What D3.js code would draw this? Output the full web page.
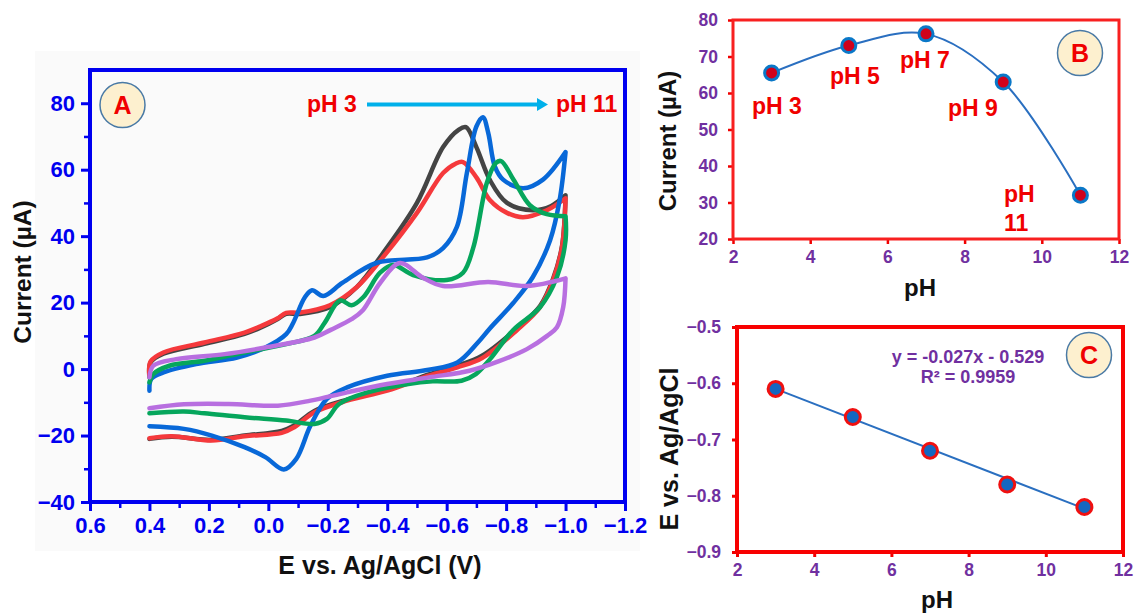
<!DOCTYPE html>
<html lang="en">
<head>
  <meta charset="UTF-8">
  <title>CV vs pH</title>
  <script src="https://d3js.org/d3.v7.min.js"></script>
  <style>
    body { margin: 0; background: #fff; }
    svg { display: block; }
    text { font-family: "Liberation Sans", Arial, sans-serif; font-weight: bold; }
    .axis path { display: none; }
  </style>
</head>
<body>
  <div id="chart"></div>
  <script>
    // panel A: voltammograms, [E, I] in scan order (turning point listed twice to keep it sharp)
    const cvBlack = [[0.4,-2.5],[0.396,2],[0.353,4.6],[0.215,7.6],[0.08,10.6],[0.023,12.6],[-0.03,15],[-0.06,16.6],[-0.107,16.6],[-0.207,18.6],[-0.298,24.7],[-0.386,34.9],[-0.5,50],[-0.588,66.8],[-0.64,72],[-0.665,72.8],[-0.70,66.8],[-0.746,56.8],[-0.803,50],[-0.89,47.8],[-0.95,49],[-1.0,52.3],[-1.0,52.3],[-0.988,37],[-0.958,27.2],[-0.914,19],[-0.836,12.2],[-0.719,4],[-0.636,1],[-0.54,-1.6],[-0.4,-6.2],[-0.265,-9.2],[-0.155,-12.6],[-0.087,-17],[-0.045,-18.6],[0.08,-20],[0.19,-21.3],[0.325,-20.4],[0.4,-21]];
    const cvRed = [[0.4,-2],[0.396,2.3],[0.353,5],[0.215,8],[0.08,11],[0.023,13],[-0.03,15.2],[-0.06,16.9],[-0.107,17],[-0.207,19.2],[-0.298,24.7],[-0.386,33.7],[-0.5,47],[-0.588,59],[-0.63,61.8],[-0.655,62.3],[-0.70,57.7],[-0.746,50.8],[-0.803,47],[-0.857,45.7],[-0.937,47.8],[-1.0,51.4],[-1.0,51.4],[-0.988,36.7],[-0.958,26.8],[-0.914,18.6],[-0.836,11.7],[-0.719,3.3],[-0.636,0.5],[-0.54,-2],[-0.4,-6.5],[-0.265,-9.5],[-0.155,-13],[-0.087,-17.5],[-0.045,-19.2],[0.08,-20.2],[0.19,-21.5],[0.325,-20.2],[0.4,-20.8]];
    const cvBlue = [[0.4,-6.5],[0.394,-3],[0.353,-1],[0.243,1.5],[0.105,3.5],[0.01,6.5],[-0.06,10.5],[-0.083,13.8],[-0.123,21.6],[-0.147,23.7],[-0.185,22],[-0.25,26],[-0.365,32],[-0.534,33.6],[-0.588,36.4],[-0.634,42.7],[-0.668,59],[-0.70,73],[-0.722,75.8],[-0.74,71],[-0.762,61],[-0.79,57],[-0.857,54.4],[-0.924,57],[-1.0,65.3],[-1.0,65.3],[-0.98,50.8],[-0.948,38.8],[-0.89,27.7],[-0.823,19.8],[-0.746,12.3],[-0.705,8],[-0.636,2],[-0.54,-0.2],[-0.4,-2],[-0.265,-5.5],[-0.197,-9],[-0.142,-17],[-0.094,-27],[-0.052,-30.2],[0.01,-26.5],[0.08,-23.5],[0.19,-20],[0.284,-18],[0.4,-17.2]];
    const cvGreen = [[0.4,-4],[0.387,-1.5],[0.333,1],[0.215,2.5],[0.08,5],[-0.06,7.5],[-0.155,10],[-0.19,14],[-0.241,20.7],[-0.28,19.2],[-0.32,21.7],[-0.376,29],[-0.42,31.3],[-0.487,28.3],[-0.6,26.8],[-0.655,29],[-0.69,36.7],[-0.735,56],[-0.765,62],[-0.783,62.6],[-0.825,57],[-0.88,49.3],[-0.937,46.6],[-1.0,46],[-1.0,46],[-1.0,38.8],[-0.971,27.7],[-0.914,18.6],[-0.823,11.7],[-0.746,3],[-0.698,-1.5],[-0.65,-3.5],[-0.553,-3.7],[-0.471,-4.5],[-0.334,-7],[-0.238,-10.5],[-0.197,-15],[-0.155,-16.5],[-0.06,-15.5],[0.08,-14.5],[0.215,-13.3],[0.284,-12.8],[0.4,-13.3]];
    const cvPurple = [[0.4,-2.5],[0.387,1],[0.31,3],[0.147,4.5],[0.01,6.5],[-0.155,9.5],[-0.21,11.8],[-0.28,15],[-0.318,17.7],[-0.376,25.9],[-0.443,31.9],[-0.52,27.5],[-0.588,25],[-0.74,26.2],[-0.87,25],[-1.0,27.3],[-1.0,27.3],[-0.992,18.6],[-0.971,12.6],[-0.938,10],[-0.87,6],[-0.774,2.3],[-0.677,-0.5],[-0.54,-2.5],[-0.4,-4.5],[-0.265,-7],[-0.142,-9.5],[-0.032,-11],[0.133,-10.5],[0.284,-10.6],[0.4,-11.8]];
    const cvColors = ["#444444", "#f5393c", "#0868d8", "#06a65c", "#b86fe0"];

    // panels B and C
    const phValues = [3, 5, 7, 9, 11];
    const currentValues = [65.5, 73, 76.2, 63, 32];
    const potentialValues = [-0.61, -0.66, -0.72, -0.78, -0.82];
    const trendPh = [3, 11];
    const trendE = [-0.61, -0.823];

    const ticksAE = [0.6, 0.4, 0.2, 0, -0.2, -0.4, -0.6, -0.8, -1.0, -1.2];
    const minorAE = [0.5, 0.3, 0.1, -0.1, -0.3, -0.5, -0.7, -0.9, -1.1];
    const ticksAI = [-40, -20, 0, 20, 40, 60, 80];
    const minorAI = [-30, -10, 10, 30, 50, 70];
    const ticksPh = [2, 4, 6, 8, 10, 12];
    const ticksBI = [20, 30, 40, 50, 60, 70, 80];
    const ticksCE = [-0.9, -0.8, -0.7, -0.6, -0.5];

    const svg = d3.select("#chart").append("svg").attr("width", 1134).attr("height", 615);

    function txt(x, y, s, size, color, anchor) {
      return svg.append("text").attr("x", x).attr("y", y).attr("font-size", size)
        .attr("fill", color).attr("text-anchor", anchor || "middle").text(s);
    }
    function vtxt(x, y, s, size) {
      return svg.append("text").attr("transform", `translate(${x},${y}) rotate(-90)`)
        .attr("font-size", size).attr("fill", "#111").attr("text-anchor", "middle").text(s);
    }
    function badge(x, y, s) {
      svg.append("circle").attr("cx", x).attr("cy", y).attr("r", 22.5)
        .attr("fill", "#fdf0cf").attr("stroke", "#4a7aa5").attr("stroke-width", 1.5);
      txt(x, y + 9, s, 25, "#f00000");
    }
    function drawAxis(axis, tx, ty, color, width, size, fmt, font, pad) {
      const g = svg.append("g").attr("class", "axis").attr("transform", `translate(${tx},${ty})`)
        .call(axis.tickSize(size).tickPadding(pad).tickFormat(fmt));
      g.selectAll("line").attr("stroke", color).attr("stroke-width", width);
      g.selectAll("text").attr("fill", color).attr("font-size", font);
      return g;
    }
    function frame(x, y, color, width) {
      const [x0, x1] = x.range(), [y0, y1] = y.range();
      svg.append("rect").attr("x", x0).attr("y", y1).attr("width", x1 - x0).attr("height", y0 - y1)
        .attr("fill", "none").attr("stroke", color).attr("stroke-width", width);
    }

    // ---- panel A ----
    svg.append("rect").attr("x", 35).attr("y", 51).attr("width", 605).attr("height", 500).attr("fill", "#fafafa");
    const xA = d3.scaleLinear().domain([0.6, -1.2]).range([90, 625]);
    const yA = d3.scaleLinear().domain([-40, 90]).range([502, 70]);
    const cvLine = d3.line().x(d => xA(d[0])).y(d => yA(d[1])).curve(d3.curveCatmullRom.alpha(0.5));
    [cvBlack, cvRed, cvBlue, cvGreen, cvPurple].forEach((c, i) => {
      svg.append("path").datum(c).attr("d", cvLine).attr("fill", "none")
        .attr("stroke", cvColors[i]).attr("stroke-width", 4.5)
        .attr("stroke-linejoin", "round").attr("stroke-linecap", "round");
    });
    drawAxis(d3.axisBottom(xA).tickValues(minorAE), 0, 502, "#0000f0", 2.5, 6, () => "", 1, 0);
    drawAxis(d3.axisLeft(yA).tickValues(minorAI), 90, 0, "#0000f0", 2.5, 6, () => "", 1, 0);
    drawAxis(d3.axisBottom(xA).tickValues(ticksAE), 0, 502, "#0000f0", 3, 9, d3.format(".1f"), 22, 6);
    drawAxis(d3.axisLeft(yA).tickValues(ticksAI), 90, 0, "#0000f0", 3, 9, d3.format("d"), 22, 6);
    frame(xA, yA, "#0000f0", 4);
    vtxt(31, 272, "Current (µA)", 24.5);
    txt(380, 574, "E vs. Ag/AgCl (V)", 25, "#111");
    badge(122.5, 105, "A");
    txt(307, 112, "pH 3", 23, "#f00000", "start");
    txt(556, 112, "pH 11", 23, "#f00000", "start");
    svg.append("line").attr("x1", 367).attr("x2", 540).attr("y1", 104.5).attr("y2", 104.5)
      .attr("stroke", "#00b0ea").attr("stroke-width", 4);
    svg.append("path").attr("d", "M537,98L548,104.5L537,111Z").attr("fill", "#00b0ea");

    // ---- panel B ----
    const xB = d3.scaleLinear().domain([2, 12]).range([733, 1119]);
    const yB = d3.scaleLinear().domain([20, 80]).range([239, 20]);
    const phPoints = phValues.map((p, i) => [p, currentValues[i]]);
    svg.append("path").datum(phPoints)
      .attr("d", d3.line().x(d => xB(d[0])).y(d => yB(d[1])).curve(d3.curveCatmullRom.alpha(0.5)))
      .attr("fill", "none").attr("stroke", "#2a6fc0").attr("stroke-width", 2);
    svg.selectAll(".ptB").data(phPoints).enter().append("circle").attr("class", "ptB")
      .attr("cx", d => xB(d[0])).attr("cy", d => yB(d[1])).attr("r", 7)
      .attr("fill", "#d0021b").attr("stroke", "#0a78c8").attr("stroke-width", 3);
    drawAxis(d3.axisBottom(xB).tickValues(ticksPh), 0, 239, "#f00000", 2.5, 5, d3.format("d"), 17.5, 7)
      .selectAll("text").attr("fill", "#7030a0");
    drawAxis(d3.axisLeft(yB).tickValues(ticksBI), 733, 0, "#f00000", 2.5, 5, d3.format("d"), 17.5, 10)
      .selectAll("text").attr("fill", "#7030a0");
    frame(xB, yB, "#f82020", 3);
    vtxt(676, 141, "Current (µA)", 24);
    txt(920, 296, "pH", 24, "#111");
    badge(1080, 53, "B");
    txt(752, 114, "pH 3", 23, "#f00000", "start");
    txt(830, 84, "pH 5", 23, "#f00000", "start");
    txt(900, 68, "pH 7", 23, "#f00000", "start");
    txt(948, 116, "pH 9", 23, "#f00000", "start");
    txt(1004, 202, "pH", 23, "#f00000", "start");
    txt(1004, 231, "11", 23, "#f00000", "start");

    // ---- panel C ----
    const xC = d3.scaleLinear().domain([2, 12]).range([737, 1123]);
    const yC = d3.scaleLinear().domain([-0.9, -0.5]).range([552, 327]);
    svg.append("path").datum(trendPh.map((p, i) => [p, trendE[i]]))
      .attr("d", d3.line().x(d => xC(d[0])).y(d => yC(d[1])))
      .attr("fill", "none").attr("stroke", "#2a6fc0").attr("stroke-width", 2);
    svg.selectAll(".ptC").data(phValues).enter().append("circle").attr("class", "ptC")
      .attr("cx", d => xC(d)).attr("cy", (d, i) => yC(potentialValues[i])).attr("r", 7.5)
      .attr("fill", "#1567c0").attr("stroke", "#f01010").attr("stroke-width", 3);
    drawAxis(d3.axisBottom(xC).tickValues(ticksPh), 0, 552, "#f00000", 3, 5, d3.format("d"), 17.5, 7)
      .selectAll("text").attr("fill", "#7030a0");
    drawAxis(d3.axisLeft(yC).tickValues(ticksCE), 737, 0, "#f00000", 3, 5, d3.format(".1f"), 17.5, 11)
      .selectAll("text").attr("fill", "#7030a0");
    frame(xC, yC, "#f80000", 4);
    vtxt(678, 449, "E vs. Ag/AgCl", 25);
    txt(937, 608, "pH", 24, "#111");
    badge(1089, 355, "C");
    txt(968, 363, "y = -0.027x - 0.529", 18, "#7030a0");
    txt(968, 383, "R² = 0.9959", 18, "#7030a0");
  </script>
</body>
</html>
